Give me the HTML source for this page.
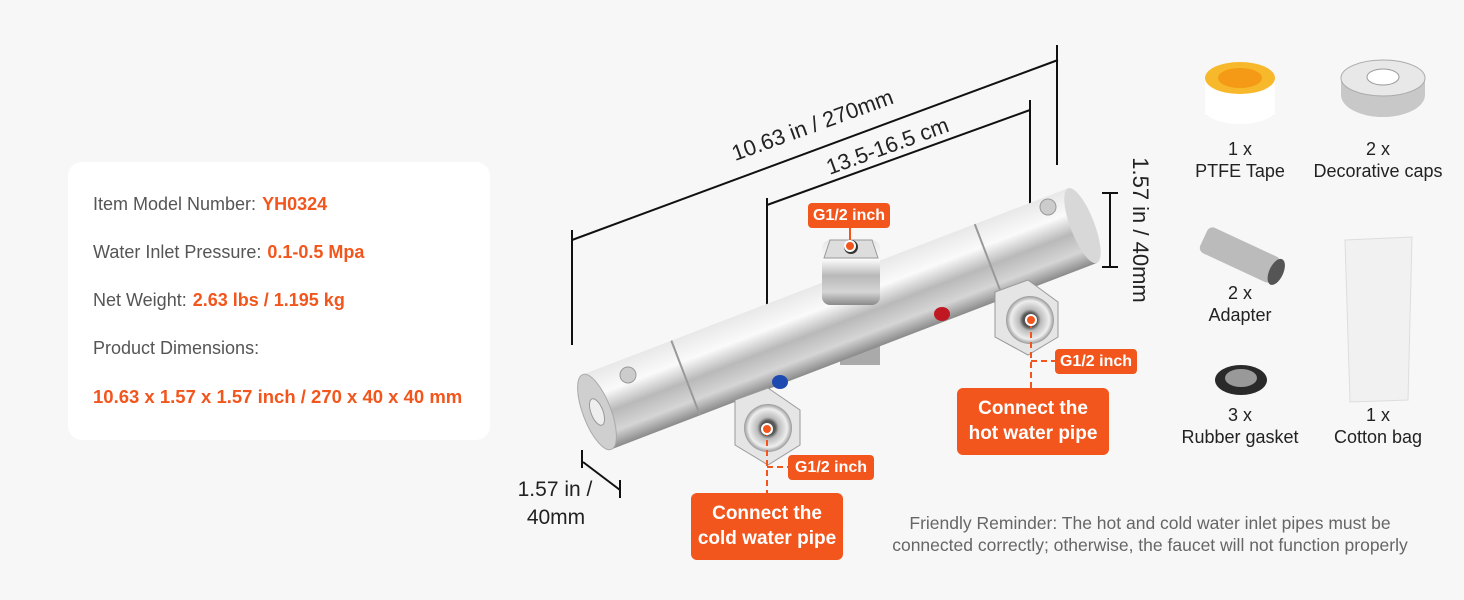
<!DOCTYPE html>
<html><head><meta charset="utf-8"><style>
html,body{margin:0;padding:0;background:#f7f7f7;}
body{width:1464px;height:600px;overflow:hidden;position:relative;font-family:"Liberation Sans",sans-serif;}
.card{position:absolute;left:68px;top:162px;width:422px;height:278px;background:#fff;border-radius:14px;}
.row{position:absolute;left:25px;font-size:18px;color:#555;white-space:nowrap;}
.row b{color:#f2561d;margin-left:6px;}
.tag{position:absolute;background:#f2561d;color:#fff;font-weight:bold;font-size:16px;border-radius:4px;text-align:center;line-height:25px;height:25px;}
.big{position:absolute;background:#f2561d;color:#fff;font-weight:bold;font-size:19px;border-radius:6px;text-align:center;line-height:25px;padding-top:8px;box-sizing:border-box;}
.t{position:absolute;font-size:18px;color:#222;text-align:center;line-height:22px;}
</style></head><body>
<div class="card">
<div class="row" style="top:32px">Item Model Number:<b>YH0324</b></div>
<div class="row" style="top:80px">Water Inlet Pressure:<b>0.1-0.5 Mpa</b></div>
<div class="row" style="top:128px">Net Weight:<b>2.63 lbs / 1.195 kg</b></div>
<div class="row" style="top:176px">Product Dimensions:</div>
<div class="row" style="top:224px;font-size:18.5px"><b style="margin:0">10.63 x 1.57 x 1.57 inch / 270 x 40 x 40 mm</b></div>
</div>
<svg width="1464" height="600" style="position:absolute;left:0;top:0">
<defs>
<linearGradient id="ch" x1="0" y1="0" x2="0" y2="1">
<stop offset="0" stop-color="#e8e8e8"/><stop offset="0.3" stop-color="#fafafa"/><stop offset="0.55" stop-color="#b9b9b9"/><stop offset="0.8" stop-color="#d5d5d5"/><stop offset="1" stop-color="#8a8a8a"/></linearGradient>
<radialGradient id="nut"><stop offset="0.3" stop-color="#555"/><stop offset="0.45" stop-color="#bbb"/><stop offset="0.8" stop-color="#eee"/><stop offset="1" stop-color="#999"/></radialGradient>
</defs>
<g stroke="#111" stroke-width="2" fill="none">
<line x1="572" y1="240" x2="1058" y2="60"/>
<line x1="572" y1="230" x2="572" y2="345"/>
<line x1="1057" y1="45" x2="1057" y2="165"/>
<line x1="767" y1="205" x2="1030" y2="110"/>
<line x1="767" y1="198" x2="767" y2="428"/>
<line x1="1030" y1="100" x2="1030" y2="318"/>
<line x1="1110" y1="193" x2="1110" y2="267"/>
<line x1="1102" y1="193" x2="1118" y2="193"/>
<line x1="1102" y1="267" x2="1118" y2="267"/>
<line x1="583" y1="462" x2="620" y2="490"/>
<line x1="582" y1="450" x2="582" y2="468"/>
<line x1="620" y1="480" x2="620" y2="498"/>
</g>
<text x="815" y="132" font-size="22" fill="#222" text-anchor="middle" transform="rotate(-20 815 132)" font-family="Liberation Sans">10.63 in / 270mm</text>
<text x="890" y="153" font-size="22" fill="#222" text-anchor="middle" transform="rotate(-20 890 153)" font-family="Liberation Sans">13.5-16.5 cm</text>
<text x="1133" y="230" font-size="22" fill="#222" text-anchor="middle" transform="rotate(90 1133 230)" font-family="Liberation Sans">1.57 in / 40mm</text>
<text x="555" y="496" font-size="21" fill="#222" text-anchor="middle" font-family="Liberation Sans">1.57 in /</text>
<text x="556" y="524" font-size="21" fill="#222" text-anchor="middle" font-family="Liberation Sans">40mm</text>
<rect x="840" y="340" width="40" height="25" fill="#aaa"/>
<g transform="translate(597,412) rotate(-21)">
<rect x="0" y="-40" width="520" height="80" fill="url(#ch)"/>
<line x1="95" y1="-40" x2="95" y2="40" stroke="#999" stroke-width="2"/>
<line x1="420" y1="-40" x2="420" y2="40" stroke="#999" stroke-width="2"/>
<ellipse cx="520" cy="0" rx="12" ry="40" fill="#d8d8d8"/>
<ellipse cx="0" cy="0" rx="14" ry="40" fill="#cfcfcf" stroke="#aaa"/>
<ellipse cx="0" cy="0" rx="6" ry="14" fill="#eee" stroke="#999"/>
</g>
<circle cx="628" cy="375" r="8" fill="#ccc" stroke="#999"/>
<circle cx="1048" cy="207" r="8" fill="#ccc" stroke="#999"/>
<ellipse cx="780" cy="382" rx="8" ry="7" fill="#1d4ab0"/>
<ellipse cx="942" cy="314" rx="8" ry="7" fill="#c01822"/>
<rect x="822" y="240" width="58" height="65" rx="8" fill="url(#ch)"/>
<polygon points="830,240 872,240 878,258 824,258" fill="#ddd" stroke="#999"/>
<circle cx="851" cy="247" r="7" fill="#333"/>
<polygon points="735,400 768,388 800,410 800,445 768,465 735,445" fill="#e5e5e5" stroke="#999"/>
<circle cx="768" cy="428" r="24" fill="url(#nut)"/>
<polygon points="995,292 1028,280 1058,302 1058,337 1028,355 995,337" fill="#e5e5e5" stroke="#999"/>
<circle cx="1030" cy="320" r="24" fill="url(#nut)"/>
<g stroke="#f2561d" stroke-width="2" stroke-dasharray="6,4" fill="none">
<line x1="767" y1="430" x2="767" y2="493"/><line x1="767" y1="467" x2="788" y2="467"/>
<line x1="1031" y1="322" x2="1031" y2="388"/><line x1="1031" y1="361" x2="1055" y2="361"/>
</g>
<line x1="850" y1="228" x2="850" y2="245" stroke="#f2561d" stroke-width="2"/>
<g fill="#f2561d" stroke="#fff" stroke-width="2">
<circle cx="767" cy="429" r="5"/><circle cx="1031" cy="320" r="5"/><circle cx="850" cy="246" r="5"/></g>
<ellipse cx="1240" cy="110" rx="35" ry="14" fill="#fff"/>
<rect x="1205" y="75" width="70" height="40" fill="#fff"/>
<ellipse cx="1240" cy="78" rx="35" ry="16" fill="#f7b92b"/>
<ellipse cx="1240" cy="78" rx="22" ry="10" fill="#f49a16"/>
<ellipse cx="1383" cy="95" rx="42" ry="22" fill="#c8c8c8"/>
<rect x="1341" y="78" width="84" height="17" fill="#c8c8c8"/>
<ellipse cx="1383" cy="78" rx="42" ry="18" fill="#e8e8e8" stroke="#aaa"/>
<ellipse cx="1383" cy="77" rx="16" ry="8" fill="#fff" stroke="#999"/>
<g transform="translate(1240,255) rotate(25)"><rect x="-40" y="-14" width="80" height="28" rx="6" fill="#bbb"/><ellipse cx="40" cy="0" rx="7" ry="14" fill="#555"/></g>
<ellipse cx="1241" cy="380" rx="26" ry="15" fill="#2a2a2a"/>
<ellipse cx="1241" cy="378" rx="16" ry="9" fill="#999"/>
<path d="M1345 240 L1412 237 L1408 400 L1350 402 Z" fill="#f1f1f1" stroke="#ddd"/>
</svg>
<div class="tag" style="left:808px;top:203px;width:82px">G1/2 inch</div>
<div class="tag" style="left:788px;top:455px;width:86px">G1/2 inch</div>
<div class="tag" style="left:1055px;top:349px;width:82px">G1/2 inch</div>
<div class="big" style="left:691px;top:493px;width:152px;height:67px">Connect the<br>cold water pipe</div>
<div class="big" style="left:957px;top:388px;width:152px;height:67px">Connect the<br>hot water pipe</div>
<div class="t" style="left:1170px;top:138px;width:140px">1 x<br>PTFE Tape</div>
<div class="t" style="left:1303px;top:138px;width:150px">2 x<br>Decorative caps</div>
<div class="t" style="left:1170px;top:282px;width:140px">2 x<br>Adapter</div>
<div class="t" style="left:1165px;top:404px;width:150px">3 x<br>Rubber gasket</div>
<div class="t" style="left:1313px;top:404px;width:130px">1 x<br>Cotton bag</div>
<div style="position:absolute;left:850px;top:512px;width:600px;text-align:center;font-size:17.5px;color:#666;line-height:22px">Friendly Reminder: The hot and cold water inlet pipes must be<br>connected correctly; otherwise, the faucet will not function properly</div>
</body></html>
